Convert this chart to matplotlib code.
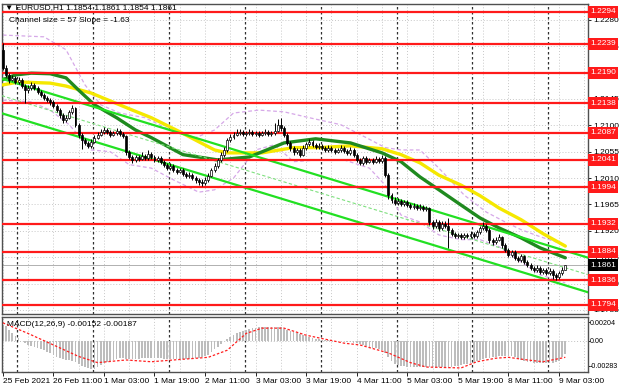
import matplotlib
matplotlib.use('Agg')
import matplotlib.pyplot as plt
import matplotlib.transforms as mtransforms

plt.rcParams['font.family'] = ['Liberation Sans', 'DejaVu Sans']

# hourly EURUSD bars, 25 Feb 19:00 .. 9 Mar 05:00
closes = [1.2198, 1.2186, 1.2178, 1.2181, 1.2174, 1.2178, 1.2167, 1.2160, 1.2164, 1.2169,
          1.2164, 1.2157, 1.2152, 1.2147, 1.2143, 1.2140, 1.2133, 1.2126, 1.2118, 1.2109,
          1.2113, 1.2123, 1.2130, 1.2101, 1.2084, 1.2075, 1.2070, 1.2065, 1.2072, 1.2079,
          1.2084, 1.2089, 1.2092, 1.2089, 1.2084, 1.2087, 1.2091, 1.2085, 1.2082, 1.2055,
          1.2046, 1.2041, 1.2046, 1.2043, 1.2048, 1.2044, 1.2051, 1.2046, 1.2041, 1.2044,
          1.2038, 1.2033, 1.2027, 1.2031, 1.2024, 1.2021, 1.2024, 1.2017, 1.2014, 1.2016,
          1.2010, 1.2007, 1.2004, 1.2002, 1.2007, 1.2014, 1.2024, 1.2031, 1.2041, 1.2050,
          1.2058, 1.2075, 1.2080, 1.2084, 1.2087, 1.2089, 1.2085, 1.2087, 1.2089, 1.2085,
          1.2087, 1.2084, 1.2087, 1.2089, 1.2085, 1.2087, 1.2091, 1.2101, 1.2096, 1.2084,
          1.2070, 1.2062, 1.2055, 1.2058, 1.2050, 1.2062, 1.2068, 1.2072, 1.2067, 1.2063,
          1.2065, 1.2062, 1.2058, 1.2062, 1.2058, 1.2055, 1.2058, 1.2062, 1.2056, 1.2053,
          1.2058, 1.2050, 1.2041, 1.2036, 1.2044, 1.2038, 1.2041, 1.2038, 1.2043, 1.2039,
          1.2044, 1.2016, 1.1981, 1.1973, 1.1968, 1.1971, 1.1966, 1.1969, 1.1964, 1.1961,
          1.1963, 1.1959, 1.1961, 1.1957, 1.1959, 1.1935, 1.1928, 1.1935, 1.1925, 1.1932,
          1.1928, 1.1922, 1.1915, 1.1911, 1.1913, 1.1910, 1.1913, 1.1911, 1.1915, 1.1911,
          1.1918, 1.1925, 1.1928, 1.1922, 1.1905, 1.1901, 1.1905, 1.1910, 1.1896, 1.1888,
          1.1879, 1.1884, 1.1874, 1.1870, 1.1877, 1.1867, 1.1862, 1.1857, 1.1853, 1.1857,
          1.1850, 1.1853, 1.1848, 1.1852, 1.1845, 1.1841, 1.1848, 1.1854, 1.1861]
highs = [1.2240, 1.2203, 1.2190, 1.2186, 1.2184, 1.2183, 1.2180, 1.2170, 1.2168, 1.2174,
         1.2172, 1.2167, 1.2160, 1.2156, 1.2150, 1.2147, 1.2143, 1.2137, 1.2129, 1.2121,
         1.2118, 1.2127, 1.2135, 1.2132, 1.2104, 1.2087, 1.2079, 1.2074, 1.2076, 1.2083,
         1.2088, 1.2093, 1.2097, 1.2095, 1.2092, 1.2091, 1.2095, 1.2094, 1.2088, 1.2084,
         1.2058, 1.2050, 1.2050, 1.2049, 1.2054, 1.2051, 1.2058, 1.2054, 1.2049, 1.2048,
         1.2047, 1.2041, 1.2036, 1.2035, 1.2034, 1.2028, 1.2028, 1.2027, 1.2020, 1.2020,
         1.2019, 1.2013, 1.2010, 1.2008, 1.2011, 1.2018, 1.2028, 1.2035, 1.2045, 1.2054,
         1.2063, 1.2079, 1.2085, 1.2089, 1.2093, 1.2094, 1.2092, 1.2091, 1.2093, 1.2092,
         1.2091, 1.2090, 1.2091, 1.2094, 1.2092, 1.2091, 1.2104, 1.2110, 1.2112, 1.2099,
         1.2087, 1.2073, 1.2065, 1.2062, 1.2061, 1.2066, 1.2072, 1.2077, 1.2075, 1.2070,
         1.2069, 1.2068, 1.2065, 1.2066, 1.2065, 1.2061, 1.2062, 1.2066, 1.2065, 1.2059,
         1.2063, 1.2061, 1.2053, 1.2044, 1.2048, 1.2047, 1.2045, 1.2044, 1.2047, 1.2046,
         1.2049, 1.2047, 1.2018, 1.1985, 1.1977, 1.1976, 1.1974, 1.1973, 1.1972, 1.1967,
         1.1967, 1.1966, 1.1965, 1.1964, 1.1963, 1.1961, 1.1939, 1.1940, 1.1938, 1.1937,
         1.1936, 1.1942, 1.1925, 1.1918, 1.1917, 1.1916, 1.1917, 1.1916, 1.1919, 1.1918,
         1.1922, 1.1929, 1.1935, 1.1931, 1.1925, 1.1908, 1.1909, 1.1914, 1.1912, 1.1899,
         1.1891, 1.1888, 1.1887, 1.1877, 1.1881, 1.1879, 1.1870, 1.1865, 1.1860, 1.1861,
         1.1860, 1.1857, 1.1856, 1.1856, 1.1855, 1.1848, 1.1852, 1.1858, 1.1861]
lows = [1.2194, 1.2182, 1.2173, 1.2175, 1.2170, 1.2171, 1.2163, 1.2138, 1.2155, 1.2161,
        1.2160, 1.2153, 1.2148, 1.2143, 1.2139, 1.2135, 1.2129, 1.2122, 1.2113, 1.2104,
        1.2105, 1.2110, 1.2120, 1.2097, 1.2078, 1.2060, 1.2066, 1.2061, 1.2062, 1.2069,
        1.2076, 1.2081, 1.2086, 1.2085, 1.2080, 1.2081, 1.2084, 1.2081, 1.2078, 1.2050,
        1.2042, 1.2036, 1.2037, 1.2039, 1.2040, 1.2040, 1.2041, 1.2042, 1.2037, 1.2037,
        1.2034, 1.2029, 1.2023, 1.2024, 1.2020, 1.2017, 1.2018, 1.2013, 1.2010, 1.2010,
        1.2006, 1.2002, 1.1999, 1.1996, 1.1999, 1.2004, 1.2011, 1.2020, 1.2028, 1.2038,
        1.2046, 1.2055, 1.2071, 1.2077, 1.2081, 1.2083, 1.2081, 1.2082, 1.2083, 1.2081,
        1.2082, 1.2080, 1.2081, 1.2083, 1.2081, 1.2082, 1.2083, 1.2088, 1.2090, 1.2080,
        1.2066, 1.2057, 1.2050, 1.2051, 1.2046, 1.2047, 1.2058, 1.2065, 1.2063, 1.2059,
        1.2059, 1.2058, 1.2054, 1.2055, 1.2054, 1.2051, 1.2052, 1.2055, 1.2052, 1.2049,
        1.2050, 1.2046, 1.2037, 1.2032, 1.2033, 1.2034, 1.2035, 1.2034, 1.2035, 1.2035,
        1.2036, 1.2012, 1.1975, 1.1968, 1.1964, 1.1964, 1.1962, 1.1962, 1.1960, 1.1957,
        1.1957, 1.1955, 1.1955, 1.1953, 1.1953, 1.1930, 1.1923, 1.1925, 1.1920, 1.1921,
        1.1924, 1.1891, 1.1911, 1.1907, 1.1907, 1.1906, 1.1906, 1.1907, 1.1908, 1.1907,
        1.1908, 1.1915, 1.1921, 1.1918, 1.1900, 1.1896, 1.1897, 1.1902, 1.1891, 1.1884,
        1.1875, 1.1875, 1.1870, 1.1866, 1.1867, 1.1863, 1.1858, 1.1853, 1.1849, 1.1850,
        1.1846, 1.1846, 1.1844, 1.1844, 1.1838, 1.1836, 1.1838, 1.1845, 1.1854]
first_open = 1.2229
# FX hourly bars open where the previous one closed
opens = [first_open] + closes[:-1]

# moving averages, sampled (bar index, price)
ma_fast_bars = [0, 4, 9, 15, 20, 24, 29, 36, 42, 47, 57, 68, 78, 89, 99, 110, 120, 126,
                132, 138, 145, 151, 157, 164, 170, 178]
ma_fast = [1.2178, 1.2186, 1.2189, 1.2188, 1.2181, 1.2160, 1.2135, 1.2113, 1.2092, 1.2079,
           1.2050, 1.2041, 1.2046, 1.2070, 1.2077, 1.2070, 1.2053, 1.2038, 1.2012, 1.1990,
           1.1964, 1.1942, 1.1925, 1.1908, 1.1891, 1.1874]
ma_slow_bars = [0, 5, 15, 20, 28, 41, 47, 56, 62, 67, 71, 82, 92, 100, 110, 120, 126, 132,
                138, 145, 151, 157, 164, 171, 178]
ma_slow = [1.2169, 1.2174, 1.2172, 1.2167, 1.2155, 1.2126, 1.2113, 1.2089, 1.2072, 1.2058,
           1.2053, 1.2053, 1.2062, 1.2062, 1.2065, 1.2060, 1.2050, 1.2036, 1.2015, 1.1998,
           1.1980, 1.1959, 1.1939, 1.1915, 1.1894]

# bands
band_up_bars = [0, 13, 20, 26, 31, 37, 45, 53, 61, 67, 73, 81, 89, 97, 107, 115, 121, 126,
                132, 138, 146, 153, 159, 164, 170, 178]
band_up = [1.2254, 1.2251, 1.2229, 1.2169, 1.2135, 1.2121, 1.2113, 1.2092, 1.2079, 1.2092,
           1.2121, 1.2126, 1.2123, 1.2113, 1.2101, 1.2079, 1.2062, 1.2058, 1.2058, 1.2027,
           1.1981, 1.1952, 1.1935, 1.1922, 1.1910, 1.1896]
band_lo_bars = [0, 9, 15, 21, 28, 34, 40, 47, 54, 62, 67, 73, 80, 86, 92, 100, 108, 116,
                121, 126, 132, 138, 145, 151, 157, 164, 170, 178]
band_lo = [1.2143, 1.2140, 1.2126, 1.2101, 1.2058, 1.2055, 1.2033, 1.2027, 1.2007, 1.1986,
           1.1990, 1.2010, 1.2058, 1.2067, 1.2038, 1.2041, 1.2041, 1.2027, 1.1998, 1.1947,
           1.1935, 1.1913, 1.1905, 1.1905, 1.1893, 1.1867, 1.1845, 1.1831]

# regression channel anchors (bar, price)
chan_up = [(0, 1.2179), (178, 1.1886)]
chan_mid = [(0, 1.2150), (178, 1.1857)]
chan_lo = [(0, 1.2120), (178, 1.1827)]

levels = [1.2294, 1.2239, 1.2190, 1.2138, 1.2087, 1.2041, 1.1994, 1.1932, 1.1884, 1.1836, 1.1794]
price_ticks = [1.2280, 1.2235, 1.2190, 1.2145, 1.2100, 1.2055, 1.2010, 1.1965, 1.1920,
               1.1875, 1.1830, 1.1785]
last_price = 1.1861

macd_hist = [0.0018, 0.0016, 0.0012, 0.0008, 0.0005, 0.0003,
             -0.0001, -0.0003, -0.0005, -0.0006, -0.0007, -0.0008, -0.0010, -0.0011, -0.0013, -0.0014,
             -0.0016, -0.0019, -0.0020, -0.0021, -0.0022, -0.0022, -0.0023, -0.0024,
             -0.0027, -0.0029, -0.0030, -0.0031, -0.0032, -0.0032, -0.0030, -0.0028,
             -0.0025, -0.0024, -0.0023, -0.0022, -0.0021, -0.0020, -0.0020, -0.0021, -0.0021,
             -0.0021, -0.0021, -0.0021, -0.0020, -0.0020, -0.0020, -0.0020, -0.0020, -0.0020, -0.0020,
             -0.0021, -0.0021, -0.0021, -0.0021, -0.0021, -0.0021, -0.0021, -0.0021, -0.0021, -0.0021,
             -0.0020, -0.0020,
             -0.0019, -0.0018, -0.0016, -0.0013, -0.0010, -0.0007, -0.0004, -0.0001,
             0.0002, 0.0004, 0.0006, 0.0008, 0.0010, 0.0011, 0.0012, 0.0013, 0.0014,
             0.0014, 0.0015, 0.0015, 0.0015, 0.0015, 0.0015, 0.0015, 0.0015, 0.0015,
             0.0013, 0.0012, 0.0011, 0.0010, 0.0008, 0.0007, 0.0006,
             0.0005, 0.0004, 0.0003, 0.0002, 0.0002, 0.0001, 0.0001, 0.0001, 0.0000, 0.0000,
             0.0000, -0.0001, -0.0001, -0.0002, -0.0002, -0.0003, -0.0003, -0.0004, -0.0005,
             -0.0006, -0.0007, -0.0008, -0.0009, -0.0010, -0.0011,
             -0.0014, -0.0019, -0.0023, -0.0026, -0.0028,
             -0.0029, -0.0029, -0.0030, -0.0030, -0.0030, -0.0030, -0.0030, -0.0030,
             -0.0030, -0.0030, -0.0030, -0.0030, -0.0030, -0.0030, -0.0030, -0.0030,
             -0.0030, -0.0029, -0.0029, -0.0028, -0.0027, -0.0026, -0.0025, -0.0024, -0.0023,
             -0.0022, -0.0021, -0.0020, -0.0020, -0.0019, -0.0019, -0.0018, -0.0018, -0.0017, -0.0017,
             -0.0018, -0.0019, -0.0021, -0.0022, -0.0023,
             -0.0024, -0.0024, -0.0025, -0.0025, -0.0025, -0.0025, -0.0025, -0.0025, -0.0025, -0.0024,
             -0.0023, -0.0019, -0.0015]
signal_bars = [0, 8, 16, 24, 30, 39, 47, 54, 65, 71, 77, 82, 89, 96, 108, 113, 122, 129,
               134, 145, 150, 156, 160, 166, 171, 178]
signal = [0.0020, 0.0008, -0.0005, -0.0018, -0.0025, -0.0022, -0.0024, -0.0022, -0.0019,
          -0.0011, 0.0008, 0.0014, 0.0014, 0.0006, -0.0003, -0.0005, -0.0014, -0.0025,
          -0.0030, -0.0031, -0.0024, -0.0020, -0.0019, -0.0022, -0.0024, -0.0019]

tick_bars = list(range(0, 177, 16))
tick_labels = ['25 Feb 2021', '26 Feb 11:00', '1 Mar 03:00', '1 Mar 19:00', '2 Mar 11:00',
               '3 Mar 03:00', '3 Mar 19:00', '4 Mar 11:00', '5 Mar 03:00', '5 Mar 19:00',
               '8 Mar 11:00', '9 Mar 03:00']
day_starts = [5, 29, 53, 77, 101, 125, 149, 173]

assert len(closes) == len(highs) == len(lows) == len(macd_hist) == 179, \
    (len(closes), len(highs), len(lows), len(macd_hist))

n = len(closes)
idx = list(range(n))
fs = 6.0

fig = plt.figure(figsize=(6.2, 3.88), dpi=100)
ax = fig.add_axes([0.003, 0.191, 0.945, 0.799])
mx = fig.add_axes([0.003, 0.041, 0.945, 0.142], sharex=ax)

for a in (ax, mx):
    for k in range(0, 186, 8):
        a.axvline(k, color='#c8c8c8', lw=0.7, ls=(0, (1, 2)), zorder=0)
    for d in day_starts:
        a.axvline(d - 0.4, color='#303030', lw=0.9, ls=(0, (2, 2)), zorder=1)
    for s in a.spines.values():
        s.set_color('#505050')
        s.set_linewidth(1.0)
    a.yaxis.tick_right()
    a.tick_params(axis='y', labelsize=fs, length=2.5, width=0.6, pad=1.5, colors='black')

for p in price_ticks:
    ax.axhline(p, color='#c8c8c8', lw=0.7, ls=(0, (1, 2)), zorder=0)

# bands and averages
ax.plot(band_up_bars, band_up, color='#d6a8e8', lw=0.9, ls=(0, (3, 2)), zorder=2)
ax.plot(band_lo_bars, band_lo, color='#d6a8e8', lw=0.9, ls=(0, (3, 2)), zorder=2)
ax.plot(ma_slow_bars, ma_slow, color='#f5e800', lw=2.4, zorder=3, solid_capstyle='round')
ax.plot(ma_fast_bars, ma_fast, color='#1f8a1f', lw=2.4, zorder=3, solid_capstyle='round')

# channel
ax.axline(chan_up[0], chan_up[1], color='#22e022', lw=1.6, zorder=4)
ax.axline(chan_lo[0], chan_lo[1], color='#22e022', lw=1.6, zorder=4)
ax.axline(chan_mid[0], chan_mid[1], color='#7ee07e', lw=0.8, ls=(0, (3, 2)), zorder=4)

# levels
for lv in levels:
    ax.axhline(lv, color='#ff1a1a', lw=1.6, zorder=5)
ax.axhline(last_price, color='#b0b0b0', lw=0.7, zorder=1)

# candles
ax.vlines(idx, lows, highs, color='black', lw=0.7, zorder=6)
for i in idx:
    o, c = opens[i], closes[i]
    bull = c >= o
    h = abs(c - o)
    if h < 0.00006:
        h = 0.00006
    ax.bar(i, h, bottom=min(o, c), width=0.62,
           color='white' if bull else 'black', edgecolor='black', lw=0.5, zorder=7)

ax.set_xlim(-0.3, 185.1)
ax.set_ylim(1.17783, 1.23072)
ax.set_yticks(price_ticks)
# 1.2190 sits under its red level box
ax.set_yticklabels(['' if p in levels else '%.4f' % p for p in price_ticks])
ax.tick_params(axis='x', which='both', bottom=False, labelbottom=False)

trans = mtransforms.blended_transform_factory(ax.transAxes, ax.transData)
for lv in levels:
    ax.text(1.004, lv, '%.4f' % lv, transform=trans, ha='left', va='center', fontsize=fs,
            color='white', zorder=10, clip_on=False,
            bbox=dict(boxstyle='square,pad=0.3', fc='#ff1a1a', ec='none'))
ax.text(1.004, last_price, '%.4f' % last_price, transform=trans, ha='left', va='center',
        fontsize=fs, color='white', zorder=10, clip_on=False,
        bbox=dict(boxstyle='square,pad=0.3', fc='black', ec='none'))

ax.text(0.006, 0.999, '\u25bc EURUSD,H1 1.1854 1.1861 1.1854 1.1861', transform=ax.transAxes,
        ha='left', va='top', fontsize=fs, color='black', zorder=11)
ax.text(0.013, 0.958, 'Channel size = 57 Slope = -1.63', transform=ax.transAxes,
        ha='left', va='top', fontsize=fs, color='black', zorder=11)

# MACD
mx.axhline(0, color='#c0c0c0', lw=0.7, ls=(0, (1, 2)), zorder=0)
mx.bar(idx, macd_hist, width=0.55, color='#bdbdbd', zorder=2)
mx.plot(signal_bars, signal, color='#ff2020', lw=0.9, ls=(0, (2, 1.5)), zorder=3)
mx.set_ylim(-0.00357, 0.00266)
mx.set_yticks([0.00204, 0.0, -0.00283])
mx.set_yticklabels(['0.00204', '0.00', '-0.00283'])
mx.tick_params(axis='y', labelsize=5.1, length=1.2, pad=0.5)
mx.text(0.008, 0.93, 'MACD(12,26,9) -0.00152 -0.00187', transform=mx.transAxes,
        ha='left', va='top', fontsize=fs, color='black', zorder=11)
mx.set_xticks(tick_bars)
mx.set_xticklabels(tick_labels, fontsize=fs)
for lab in mx.get_xticklabels():
    lab.set_ha('left')
mx.tick_params(axis='x', length=3, width=0.6, pad=1.5)
mx.set_xlim(-0.3, 185.1)

fig.savefig('out.png', dpi=100, facecolor='white')
